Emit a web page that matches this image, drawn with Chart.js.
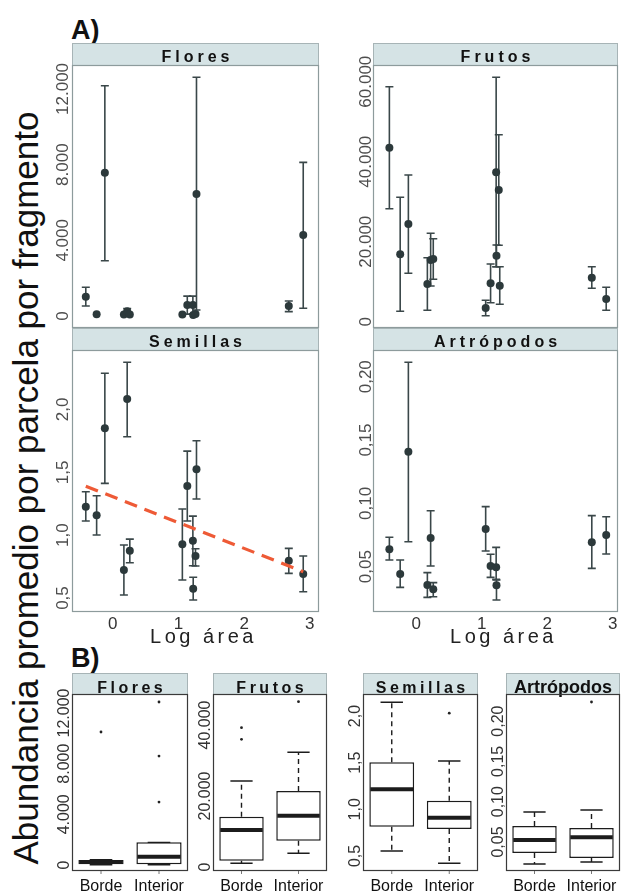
<!DOCTYPE html>
<html>
<head>
<meta charset="utf-8">
<script src="https://cdn.jsdelivr.net/npm/chart.js@4.4.1/dist/chart.umd.min.js"></script>
<style>
  body { margin: 0; width: 621px; height: 892px; background: #fff; position: relative; overflow: hidden; font-family: "Liberation Sans", Arial, sans-serif; }
  canvas { position: absolute; }
  .tag { position: absolute; font-weight: bold; font-size: 27px; line-height: 1; color: #111; }
  #ytitle { position: absolute; left: 25px; top: 488px; font-size: 35px; line-height: 1; white-space: nowrap; color: #111;
            transform: translate(-50%, -50%) rotate(-90deg); }
</style>
</head>
<body>
<div class="tag" style="left:71px;top:17px">A)</div>
<div class="tag" style="left:71px;top:645px">B)</div>
<div id="ytitle">Abundancia promedio por parcela por fragmento</div>

<canvas id="floresA"></canvas>
<canvas id="frutosA"></canvas>
<canvas id="semillasA"></canvas>
<canvas id="artropodosA"></canvas>
<canvas id="floresB"></canvas>
<canvas id="frutosB"></canvas>
<canvas id="semillasB"></canvas>
<canvas id="artropodosB"></canvas>

<script>
// ---- A) mean +- error per fragment, against log area ----
const logArea = [-0.41, -0.245, -0.12, 0.17, 0.22, 0.26, 1.06, 1.135, 1.22, 1.225, 1.26, 1.275, 2.68, 2.9];

const floresMean = [1020, 90, 7570, 80, 250, 80, 80, 580, 580, 50, 100, 6450, 530, 4280];
const floresLow  = [530, null, 2920, null, 60, null, null, 100, 100, null, null, 320, 230, 410];
const floresHigh = [1520, null, 12170, null, 400, null, null, 1050, 1050, null, null, 12620, 790, 8120];

const frutosMean = [43500, 16850, 24425, 9425, 15425, 15675, 3425, 9600, 37350, 16500, 32925, 9000, 11000, 5675];
const frutosLow  = [28250, 2600, 12100, 2850, 8925, 10600, 1500, 4750, 13750, 13750, 19100, 4350, 8350, 2850];
const frutosHigh = [58750, 31100, 36675, 16000, 22100, 20750, 5350, 14425, 61100, 19175, 46750, 13750, 13750, 8600];

const semillasMean = [1.226, 1.158, 1.85, 0.723, 2.083, 0.876, 0.927, 1.391, 0.956, 0.574, 0.834, 1.524, 0.797, 0.691];
const semillasLow  = [1.113, 1.001, 1.412, 0.524, 1.783, 0.781, 0.643, 1.113, 0.757, 0.484, 0.755, 1.288, 0.696, 0.55];
const semillasHigh = [1.346, 1.314, 2.288, 0.922, 2.375, 0.969, 1.208, 1.669, 1.152, 0.665, 0.892, 1.751, 0.895, 0.834];

const artropodosMean = [0.0637, 0.0442, 0.1408, 0.0355, 0.0727, 0.0322, 0.0798, 0.0505, 0.0495, 0.0353, null, null, 0.0693, 0.075];
const artropodosLow  = [0.0553, 0.0337, 0.0697, 0.0258, 0.0505, 0.0263, 0.0624, 0.0416, 0.040, 0.0237, null, null, 0.0487, 0.06];
const artropodosHigh = [0.0732, 0.0553, 0.2114, 0.0453, 0.0942, 0.0374, 0.0974, 0.0598, 0.0653, 0.0395, null, null, 0.0903, 0.0895];

// fitted line for Semillas
const trendX = [-0.41, 2.9];
const trendY = [1.39, 0.71];

// ---- B) box plots, Borde vs Interior ----
const groups = ["Borde", "Interior"];

const floresLoW = [20, 20],     floresQ1 = [55, 55],     floresMed = [237, 655],   floresQ3 = [395, 1790],   floresHiW = [420, 1790];
const floresOut = [[10500], [12870, 8600, 4970]];

const frutosLoW = [1040, 3860], frutosQ1 = [1770, 7410], frutosMed = [10420, 14450], frutosQ3 = [14170, 21410], frutosHiW = [24230, 32310];
const frutosOut = [[39240, 35970], [46560]];

const semillasLoW = [0.554, 0.422], semillasQ1 = [0.814, 0.789], semillasMed = [1.215, 0.91], semillasQ3 = [1.504, 1.093], semillasHiW = [2.147, 1.518];
const semillasOut = [[], [2.03]];

const artropodosLoW = [0.0227, 0.0252], artropodosQ1 = [0.0364, 0.030], artropodosMed = [0.0525, 0.056], artropodosQ3 = [0.0698, 0.0674], artropodosHiW = [0.0872, 0.0897];
const artropodosOut = [[], [0.2237]];

// tick labels
const ticksFlores = [0, 4000, 8000, 12000],      labelsFlores = ["0", "4.000", "8.000", "12.000"];
const ticksFrutosA = [0, 20000, 40000, 60000],   labelsFrutosA = ["0", "20.000", "40.000", "60.000"];
const ticksFrutosB = [0, 20000, 40000],          labelsFrutosB = ["0", "20.000", "40.000"];
const ticksSemillas = [0.5, 1, 1.5, 2],          labelsSemillas = ["0,5", "1,0", "1,5", "2,0"];
const ticksArtropodos = [0.05, 0.1, 0.15, 0.2],  labelsArtropodos = ["0,05", "0,10", "0,15", "0,20"];
const ticksLogArea = [0, 1, 2, 3],               labelsLogArea = ["0", "1", "2", "3"];

const STRIP_FILL = "#d5e3e5";
const INK = "#2c393b";
const FONT = '"Liberation Sans", Arial, sans-serif';

function rotLabel(ctx, text, x, y) {
    ctx.save();
    ctx.translate(x, y);
    ctx.rotate(-Math.PI / 2);
    ctx.textAlign = "center";
    ctx.textBaseline = "alphabetic";
    ctx.fillText(text, 0, 0);
    ctx.restore();
}

function drawFrame(chart, o) {
    const { ctx, chartArea: a, scales: { y } } = chart;
    ctx.fillStyle = STRIP_FILL;
    ctx.fillRect(a.left, a.top - o.stripH, a.width, o.stripH);
    ctx.strokeStyle = "#a7b4b6";
    ctx.lineWidth = 1;
    ctx.strokeRect(a.left + 0.5, a.top - o.stripH + 0.5, a.width - 1, o.stripH);

    ctx.fillStyle = "#111";
    ctx.font = o.titleFont;
    ctx.letterSpacing = o.spacing + "px";
    ctx.textAlign = "center";
    ctx.textBaseline = "alphabetic";
    ctx.fillText(o.title, (a.left + a.right) / 2 + o.spacing / 2, a.top - o.titleLift);
    ctx.letterSpacing = "0px";

    ctx.strokeStyle = o.frameColor;
    ctx.lineWidth = 1.2;
    ctx.strokeRect(a.left + 0.5, a.top + 0.5, a.width - 1, a.height - 1);

    ctx.font = o.tickFont;
    ctx.fillStyle = o.tickColor;
    o.yTicks.forEach((v, i) => rotLabel(ctx, o.yLabels[i], a.left - o.tickGap, y.getPixelForValue(v)));
}

const scatterPanel = {
    id: "scatterPanel",
    beforeDatasetsDraw(chart, args, o) {
        const { ctx, chartArea: a, scales: { x, y } } = chart;
        ctx.save();
        drawFrame(chart, o);
        if (o.xTicks) {
            ctx.font = "17px " + FONT;
            ctx.fillStyle = "#333";
            ctx.textAlign = "center";
            o.xTicks.forEach((v, i) => ctx.fillText(o.xLabels[i], x.getPixelForValue(v), a.bottom + 17));
            ctx.font = "20px " + FONT;
            ctx.letterSpacing = "3.5px";
            ctx.fillStyle = "#222";
            ctx.fillText("Log área", (a.left + a.right) / 2 + 8, a.bottom + 31);
            ctx.letterSpacing = "0px";
        }
        // error bars
        ctx.strokeStyle = "#3a4749";
        ctx.lineWidth = 1.6;
        o.low.forEach((lo, i) => {
            if (lo == null) return;
            const px = x.getPixelForValue(logArea[i]);
            const y1 = y.getPixelForValue(lo), y2 = y.getPixelForValue(o.high[i]);
            ctx.beginPath();
            ctx.moveTo(px, y1); ctx.lineTo(px, y2);
            ctx.moveTo(px - 4, y1); ctx.lineTo(px + 4, y1);
            ctx.moveTo(px - 4, y2); ctx.lineTo(px + 4, y2);
            ctx.stroke();
        });
        ctx.restore();
    }
};

const boxPanel = {
    id: "boxPanel",
    beforeDatasetsDraw(chart, args, o) {
        chart.ctx.save();
        drawFrame(chart, o);
        const { ctx, chartArea: a, scales: { x } } = chart;
        ctx.font = "16px " + FONT;
        ctx.fillStyle = "#111";
        ctx.textAlign = "center";
        ctx.strokeStyle = "#777";
        ctx.lineWidth = 1;
        groups.forEach((g, i) => {
            const px = x.getPixelForValue(i);
            ctx.fillText(g, px, a.bottom + 20);
            ctx.beginPath(); ctx.moveTo(px, a.bottom); ctx.lineTo(px, a.bottom + 3); ctx.stroke();
        });
        chart.ctx.restore();
    },
    afterDatasetsDraw(chart, args, o) {
        const { ctx, scales: { x, y } } = chart;
        const bars = chart.getDatasetMeta(0).data;
        ctx.save();
        ctx.strokeStyle = "#1c1c1c";
        groups.forEach((g, i) => {
            const px = x.getPixelForValue(i);
            const half = bars[i].width / 2;
            // dashed whiskers
            ctx.lineWidth = 1.4;
            ctx.setLineDash([5, 4]);
            ctx.beginPath();
            ctx.moveTo(px, y.getPixelForValue(o.q3[i])); ctx.lineTo(px, y.getPixelForValue(o.hiW[i]));
            ctx.moveTo(px, y.getPixelForValue(o.q1[i])); ctx.lineTo(px, y.getPixelForValue(o.loW[i]));
            ctx.stroke();
            ctx.setLineDash([]);
            // caps
            ctx.beginPath();
            [o.hiW[i], o.loW[i]].forEach(v => {
                const py = y.getPixelForValue(v);
                ctx.moveTo(px - half / 2, py); ctx.lineTo(px + half / 2, py);
            });
            ctx.stroke();
            // median
            ctx.lineWidth = 4;
            ctx.beginPath();
            const pm = y.getPixelForValue(o.med[i]);
            ctx.moveTo(px - half + 1, pm); ctx.lineTo(px + half - 1, pm);
            ctx.stroke();
            // outliers
            ctx.fillStyle = "#222";
            o.out[i].forEach(v => {
                ctx.beginPath();
                ctx.arc(px, y.getPixelForValue(v), 1.4, 0, Math.PI * 2);
                ctx.fill();
            });
        });
        ctx.restore();
    }
};

function place(id, plot, stripH, padB) {
    const c = document.getElementById(id);
    c.width = 50 + plot.w + 2;
    c.height = stripH + plot.h + padB;
    c.style.left = (plot.left - 50) + "px";
    c.style.top = (plot.top - stripH) + "px";
    return c;
}

function scatterChart(id, plot, opt) {
    const c = place(id, plot, 22, opt.padB);
    const datasets = [];
    if (opt.trend) {
        datasets.push({
            data: trendX.map((v, i) => ({ x: v, y: trendY[i] })),
            showLine: true, borderColor: "#ee5a36", borderWidth: 3.2, borderDash: [13, 8],
            pointRadius: 0, fill: false
        });
    }
    datasets.push({
        data: logArea.map((v, i) => ({ x: v, y: opt.mean[i] })).filter(p => p.y != null),
        pointRadius: 4, backgroundColor: INK, borderWidth: 0
    });
    new Chart(c, {
        type: "scatter",
        data: { datasets },
        options: {
            responsive: false, animation: false, events: [],
            layout: { padding: { left: 50, top: 22, right: 2, bottom: opt.padB } },
            plugins: {
                legend: { display: false }, tooltip: { enabled: false },
                scatterPanel: {
                    stripH: 22, title: opt.title, titleFont: "bold 16px " + FONT, spacing: 4, titleLift: 3,
                    frameColor: "#8d9b9c", tickFont: "17px " + FONT, tickColor: "#4d4d4d", tickGap: opt.tickGap,
                    yTicks: opt.yTicks, yLabels: opt.yLabels, xTicks: opt.xTicks, xLabels: labelsLogArea,
                    low: opt.low, high: opt.high
                }
            },
            scales: {
                x: { type: "linear", display: false, min: opt.xMin, max: opt.xMax },
                y: { type: "linear", display: false, min: opt.yMin, max: opt.yMax }
            }
        },
        plugins: [scatterPanel]
    });
}

function boxChart(id, plot, opt) {
    const c = place(id, plot, 21, 22);
    new Chart(c, {
        type: "bar",
        data: {
            labels: groups,
            datasets: [{
                data: opt.q1.map((v, i) => [v, opt.q3[i]]),
                backgroundColor: "#fff", borderColor: "#1c1c1c", borderWidth: 1.5, borderSkipped: false,
                barPercentage: 0.78, categoryPercentage: 1
            }]
        },
        options: {
            responsive: false, animation: false, events: [],
            layout: { padding: { left: 50, top: 21, right: 2, bottom: 22 } },
            plugins: {
                legend: { display: false }, tooltip: { enabled: false },
                boxPanel: {
                    stripH: 21, title: opt.title, titleFont: opt.titleFont, spacing: opt.spacing, titleLift: 1.5,
                    frameColor: "#3a3a3a", tickFont: "16px " + FONT, tickColor: "#333", tickGap: 3,
                    yTicks: opt.yTicks, yLabels: opt.yLabels,
                    loW: opt.loW, q1: opt.q1, med: opt.med, q3: opt.q3, hiW: opt.hiW, out: opt.out
                }
            },
            scales: {
                x: { type: "category", display: false, offset: true },
                y: { type: "linear", display: false, min: opt.yMin, max: opt.yMax }
            }
        },
        plugins: [boxPanel]
    });
}

scatterChart("floresA", { left: 72, top: 65, w: 249, h: 263 }, {
    title: "Flores", mean: floresMean, low: floresLow, high: floresHigh,
    yTicks: ticksFlores, yLabels: labelsFlores, yMin: -634, yMax: 13266,
    xMin: -0.62, xMax: 3.14, tickGap: 4, padB: 6
});
scatterChart("frutosA", { left: 373, top: 65, w: 247, h: 263 }, {
    title: "Frutos", mean: frutosMean, low: frutosLow, high: frutosHigh,
    yTicks: ticksFrutosA, yLabels: labelsFrutosA, yMin: -1575, yMax: 64175,
    xMin: -0.66, xMax: 3.08, tickGap: 2, padB: 6
});
scatterChart("semillasA", { left: 72, top: 350, w: 249, h: 262 }, {
    title: "Semillas", mean: semillasMean, low: semillasLow, high: semillasHigh, trend: true,
    yTicks: ticksSemillas, yLabels: labelsSemillas, yMin: 0.389, yMax: 2.473,
    xMin: -0.62, xMax: 3.14, xTicks: ticksLogArea, tickGap: 4, padB: 40
});
scatterChart("artropodosA", { left: 373, top: 350, w: 247, h: 262 }, {
    title: "Artrópodos", mean: artropodosMean, low: artropodosLow, high: artropodosHigh,
    yTicks: ticksArtropodos, yLabels: labelsArtropodos, yMin: 0.01424, yMax: 0.2211,
    xMin: -0.66, xMax: 3.08, xTicks: ticksLogArea, tickGap: 2, padB: 40
});

boxChart("floresB", { left: 72, top: 694, w: 116, h: 177 }, {
    title: "Flores", titleFont: "bold 16px " + FONT, spacing: 3.5,
    loW: floresLoW, q1: floresQ1, med: floresMed, q3: floresQ3, hiW: floresHiW, out: floresOut,
    yTicks: ticksFlores, yLabels: labelsFlores, yMin: -473, yMax: 13500
});
boxChart("frutosB", { left: 213, top: 694, w: 114, h: 177 }, {
    title: "Frutos", titleFont: "bold 16px " + FONT, spacing: 3.5,
    loW: frutosLoW, q1: frutosQ1, med: frutosMed, q3: frutosQ3, hiW: frutosHiW, out: frutosOut,
    yTicks: ticksFrutosB, yLabels: labelsFrutosB, yMin: -1130, yMax: 48730
});
boxChart("semillasB", { left: 363, top: 694, w: 115, h: 177 }, {
    title: "Semillas", titleFont: "bold 16px " + FONT, spacing: 3.5,
    loW: semillasLoW, q1: semillasQ1, med: semillasMed, q3: semillasQ3, hiW: semillasHiW, out: semillasOut,
    yTicks: ticksSemillas, yLabels: labelsSemillas, yMin: 0.339, yMax: 2.236
});
boxChart("artropodosB", { left: 506, top: 694, w: 114, h: 177 }, {
    title: "Artrópodos", titleFont: "bold 18px " + FONT, spacing: 0,
    loW: artropodosLoW, q1: artropodosQ1, med: artropodosMed, q3: artropodosQ3, hiW: artropodosHiW, out: artropodosOut,
    yTicks: ticksArtropodos, yLabels: labelsArtropodos, yMin: 0.014, yMax: 0.2336
});
</script>
</body>
</html>
